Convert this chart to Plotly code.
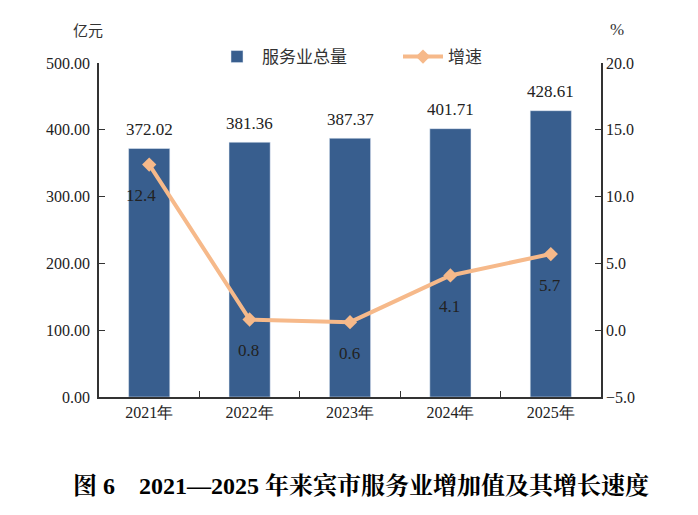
import plotly.graph_objects as go

years = ["2021年", "2022年", "2023年", "2024年", "2025年"]
totals = [372.02, 381.36, 387.37, 401.71, 428.61]
growth = [12.4, 0.8, 0.6, 4.1, 5.7]
bar_name = "服务业总量"
line_name = "增速"
title_text = "图 6　2021—2025 年来宾市服务业增加值及其增长速度"

serif = "'Times New Roman', 'Liberation Serif', 'DejaVu Serif', serif"
cjk = "'Noto Sans CJK SC', sans-serif"
bar_color = "#385E8E"
line_color = "#F6B98A"

# page offset (browser body margin)
OFF = 8
W, H = 698, 515
# desired plot area in page pixels: x 99..601, y 63..397
L, T = 99 - OFF, 63 - OFF
R, B = W - (601 - OFF), H - (397 - OFF)
pw, ph = W - L - R, H - T - B

def px(xp, yp):
    return (xp - OFF - L) / pw, (H - B - (yp - OFF)) / ph

fig = go.Figure()
fig.add_trace(go.Bar(
    x=years, y=totals, name=bar_name, marker_color=bar_color,
    width=0.41, yaxis="y",
))
fig.add_trace(go.Scatter(
    x=years, y=growth, name=line_name, yaxis="y2", mode="lines+markers",
    line=dict(color=line_color, width=4),
    marker=dict(symbol="diamond", size=11, color=line_color),
))

annotations = []
for yr, v in zip(years, totals):
    annotations.append(dict(x=yr, y=v, xref="x", yref="y", text=f"{v:.2f}",
                            showarrow=False, yshift=19,
                            font=dict(family=serif, size=17, color="#222")))
for i, (yr, v) in enumerate(zip(years, growth)):
    annotations.append(dict(x=yr, y=v, xref="x", yref="y2", text=f"{v:.1f}",
                            showarrow=False, yshift=-31, xshift=-8 if i == 0 else -1,
                            font=dict(family=serif, size=17, color="#222")))
x0, y0 = px(88, 30)
annotations.append(dict(x=x0, y=y0, xref="paper", yref="paper", text="亿元", showarrow=False,
                        xanchor="center", yanchor="middle",
                        font=dict(family=cjk, size=15, color="#333")))
x0, y0 = px(617, 30)
annotations.append(dict(x=x0, y=y0, xref="paper", yref="paper", text="%", showarrow=False,
                        xanchor="center", yanchor="middle",
                        font=dict(family=serif, size=17, color="#333")))
x0, y0 = px(361, 485)
annotations.append(dict(x=x0, y=y0, xref="paper", yref="paper", text="<b>" + title_text + "</b>",
                        showarrow=False, xanchor="center", yanchor="middle",
                        font=dict(family="'Times New Roman', 'Liberation Serif', 'Noto Serif CJK SC', 'Noto Sans CJK SC', serif",
                                  size=24, color="#000")))

fig.update_layout(
    width=W, height=H,
    margin=dict(l=L, r=R, t=T, b=B, autoexpand=False),
    plot_bgcolor="white", paper_bgcolor="white",
    showlegend=True,
    legend=dict(orientation="h", x=px(212, 0)[0], xanchor="left", y=px(0, 57)[1], yanchor="middle",
                font=dict(family=cjk, size=17, color="#333"), itemwidth=40,
                entrywidth=131, entrywidthmode="pixels",
                bgcolor="rgba(0,0,0,0)"),
    xaxis=dict(showline=True, linecolor="#333", linewidth=1.5, ticks="inside",
               tickson="boundaries", ticklen=6, tickcolor="#333", automargin=False,
               tickfont=dict(family=serif, size=16, color="#222"), showgrid=False),
    yaxis=dict(range=[0, 500], dtick=100, tickformat=".2f", showline=True, linecolor="#333",
               linewidth=1.5, ticks="inside", ticklen=6, tickcolor="#333", showgrid=False,
               zeroline=False, automargin=False, ticklabelstandoff=4,
               tickfont=dict(family=serif, size=16, color="#222")),
    yaxis2=dict(range=[-5, 20], dtick=5, tickformat=".1f", overlaying="y", side="right",
                showline=True, linecolor="#333", linewidth=1.5, ticks="inside", ticklen=6,
                tickcolor="#333", showgrid=False, zeroline=False, automargin=False,
                tickfont=dict(family=serif, size=16, color="#222")),
    annotations=annotations,
)

fig.write_html("out.html")
